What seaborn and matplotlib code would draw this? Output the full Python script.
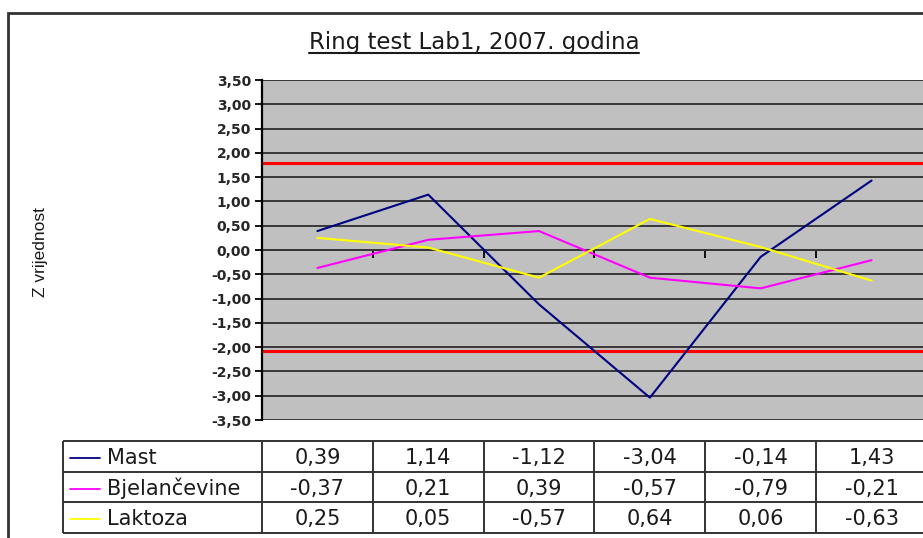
import numpy as np
import pandas as pd
import matplotlib
matplotlib.use("Agg")
import matplotlib.pyplot as plt
import seaborn as sns
from matplotlib.patches import Rectangle
from matplotlib.lines import Line2D

# ------------------------------------------
# Data
# ------------------------------------------
categories = ["1", "2", "3", "4", "5", "6"]
series_names = ["Mast", "Bjelančevine", "Laktoza"]
mast = [0.39, 1.14, -1.12, -3.04, -0.14, 1.43]
bjelancevine = [-0.37, 0.21, 0.39, -0.57, -0.79, -0.21]
laktoza = [0.25, 0.05, -0.57, 0.64, 0.06, -0.63]
series_colors = ["#000080", "#FF00FF", "#FFFF00"]
upper_limit = 1.80
lower_limit = -2.08
y_ticks = np.arange(-3.5, 3.51, 0.5)

title = "Ring test Lab1, 2007. godina"
y_label = "Z vrijednost"


def fmt(v):
    v = round(v, 2) + 0.0
    return f"{v:.2f}".replace(".", ",")


values = [mast, bjelancevine, laktoza]
rows = []
for name, vals in zip(series_names, values):
    for i, v in enumerate(vals):
        rows.append({"series": name, "pos": i + 0.5, "value": v})
df = pd.DataFrame(rows)

# ------------------------------------------
# Figure
# ------------------------------------------
sns.set_style("white")
plt.rcParams["font.family"] = ["DejaVu Sans"]

W, H = 923, 538
fig = plt.figure(figsize=(W / 100, H / 100), dpi=100)
fig.patch.set_facecolor("white")

# chart area, the right part runs past the picture edge like in the original
cat_w = 110.83
ax_left, ax_right = 262, 262 + 6 * cat_w
ax = fig.add_axes([ax_left / W, 1 - 420 / H, (ax_right - ax_left) / W, 340 / H])
ax.set_facecolor("#C0C0C0")

sns.lineplot(data=df, x="pos", y="value", hue="series", hue_order=series_names,
             palette=series_colors, ax=ax, legend=False, linewidth=1.5,
             errorbar=None, zorder=3)

ax.axhline(upper_limit, color="#FF0000", lw=2.2, zorder=2)
ax.axhline(lower_limit, color="#FF0000", lw=2.2, zorder=2)

ax.set_xlim(0, 6)
ax.set_ylim(-3.5, 3.5)
ax.set_yticks(y_ticks)
ax.set_yticklabels([fmt(v) for v in y_ticks], fontsize=10, fontweight="bold")
ax.set_xticks([])
ax.set_xlabel("")
ax.set_ylabel("")
ax.set_axisbelow(True)
ax.yaxis.grid(True, color="#383838", lw=1.4)
ax.tick_params(axis="y", direction="out", length=5, width=1.3, color="black",
               pad=3, left=True)
for s in ["top", "right", "bottom"]:
    ax.spines[s].set_visible(False)
ax.spines["left"].set_color("black")
ax.spines["left"].set_linewidth(1.6)

# category axis crossing at zero
sec = ax.secondary_xaxis(0.5)
sec.set_xticks([1, 2, 3, 4, 5])
sec.set_xticklabels([])
sec.tick_params(direction="in", length=6, width=1.3, color="black")
sec.spines["top"].set_color("black")
sec.spines["top"].set_linewidth(1.4)

# ------------------------------------------
# Data table under the chart
# ------------------------------------------
x_head = (262 - 63) / cat_w
tax = fig.add_axes([63 / W, 1 - 533 / H, (ax_right - 63) / W, (533 - 441) / H])
tax.set_xlim(-x_head, 6)
tax.set_ylim(3, 0)
tax.axis("off")

line_kw = dict(color="#333333", lw=1.4, clip_on=False, solid_capstyle="butt")
for xv in [-x_head] + list(range(7)):
    tax.plot([xv, xv], [0, 3], **line_kw)
for r in range(4):
    tax.plot([-x_head, 6], [r, r], **line_kw)

for r, (name, vals, col) in enumerate(zip(series_names, values, series_colors)):
    tax.plot([-1.73, -1.46], [r + 0.55, r + 0.55], color=col, lw=1.3)
    tax.text(-1.40, r + 0.55, name, ha="left", va="center", fontsize=15,
             color="#1a1a1a")
    for i, v in enumerate(vals):
        tax.text(i + 0.5, r + 0.55, fmt(v), ha="center", va="center",
                 fontsize=15, color="#1a1a1a")

# ------------------------------------------
# Title, axis label, frame
# ------------------------------------------
t = fig.text(474 / W, 1 - 42 / H, title, ha="center", va="center",
             fontsize=16.5, color="#1a1a1a")
fig.text(40 / W, 1 - 252 / H, y_label, rotation=90, ha="center", va="center",
         fontsize=12.5, family="Liberation Sans", color="#1a1a1a")

fig.canvas.draw()
bb = t.get_window_extent()
fig.add_artist(Line2D([bb.x0 / W, bb.x1 / W], [(H - 53) / H, (H - 53) / H],
                      transform=fig.transFigure, color="#1a1a1a", lw=1.5))

fig.add_artist(Rectangle((8 / W, -0.1), 1.2, (H - 13) / H + 0.1,
                         transform=fig.transFigure, fill=False,
                         ec="#333333", lw=2))

fig.savefig("out.png", dpi=100)
